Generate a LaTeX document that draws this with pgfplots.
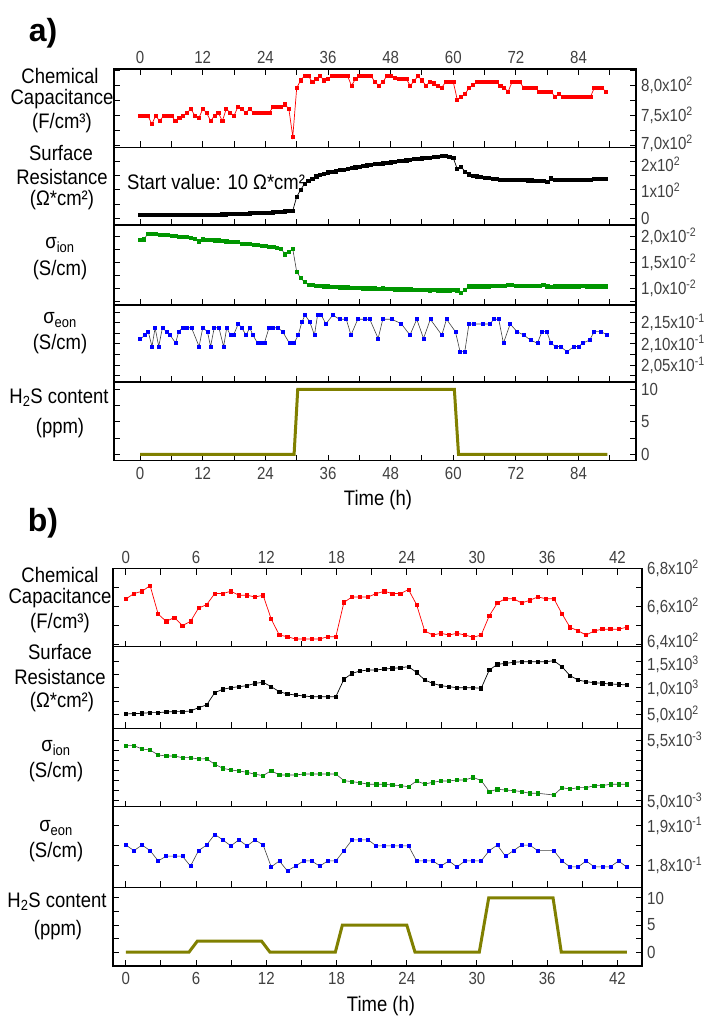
\documentclass[border=0pt]{standalone}
\usepackage{fontspec}
\setmainfont{Liberation Sans}
\newfontfamily\narrow{Liberation Sans}[FakeStretch=0.88]
\newfontfamily\narrowt{Liberation Sans}[FakeStretch=0.86]
\newfontfamily\boldf{Liberation Sans Bold}
\usepackage{pgfplots}
\pgfplotsset{compat=1.18}
\definecolor{olivel}{RGB}{128,128,0}
\definecolor{gr}{RGB}{0,150,0}
\definecolor{tk}{RGB}{64,64,64}
\newcommand\lab{\narrow\fontsize{21bp}{25bp}\selectfont}
\newcommand\tkf{\narrowt\fontsize{17.5bp}{21bp}\selectfont}
\newcommand\up[1]{\raisebox{2.5bp}[\height][\depth]{#1}}
\newcommand\dn[1]{\raisebox{-2.5bp}[\height][\depth]{#1}}
\pgfplotsset{
 panel/.style={
  scale only axis, clip=true,
  /pgf/number format/assume math mode=true,
  axis line style={line width=1.3bp},
  tick align=inside,
  major tick length=6bp, minor tick length=6bp,
  every tick/.append style={line width=1bp, black},
  tick label style={font=\tkf, color=tk},
  yticklabel pos=right, ytick pos=both,
  yticklabel style={anchor=west, xshift=2bp, inner ysep=0pt, inner xsep=3bp},
 },
 pa/.style={panel, width=522bp, xmin=-5, xmax=95, xtick={0,12,...,84}, minor xtick={6,18,...,90}},
 pb/.style={panel, width=529bp, xmin=-1.1, xmax=44.1, xtick={0,6,...,42}, minor xtick={3,9,...,39}},
 mid/.style={xticklabel pos=bottom, xtick pos=bottom, xticklabels={}},
 topp/.style={xticklabel pos=top, xtick pos=both, xticklabel style={yshift=2bp}},
 bot/.style={xticklabel pos=bottom, xtick pos=bottom, xticklabel style={yshift=-3bp}},
 redp/.style={red, line width=0.7bp, mark=square*, mark size=1.6bp},
 blkp/.style={black, line width=0.7bp, mark=square*, mark size=1.6bp},
 grp/.style={black!75, line width=0.6bp, mark=square*, mark size=1.6bp, mark options={draw=gr, fill=gr}},
 blup/.style={black!75, line width=0.6bp, mark=square*, mark size=1.5bp, mark options={draw=blue, fill=blue}},
 olp/.style={olivel, line width=3bp},
}
\begin{document}
\begin{tikzpicture}
\path[use as bounding box] (0,0) rectangle (715bp,1024bp);
% ================= PANEL A =================
\begin{axis}[pa, topp, anchor=north west, at={(114bp,955bp)}, height=78.3bp,
  ymin=697.3, ymax=827.8, ytick={700,750,800}, minor ytick={725,775,825},
  yticklabels={{\up{7,0x10\textsuperscript{2}}},{7,5x10\textsuperscript{2}},{8,0x10\textsuperscript{2}}}]
\addplot[redp] coordinates {
(0,750)(0.75,750)(1.5,750)(2.25,736)(3,750)(3.75,741)(4.5,750)(5.25,750)(6,750)(6.75,741)
(7.5,746)(8.25,750)(9,755)(9.75,761)(10.5,750)(11.25,746)(12,761)(12.75,755)(13.5,741)(14.25,750)
(15,755)(15.75,741)(16.5,761)(17.25,755)(18,750)(18.75,765)(19.5,761)(20.25,755)(21,761)(21.75,755)
(22.5,755)(23.25,755)(24,755)(24.75,755)(25.5,765)(26.25,765)(27,765)(27.75,769)(28.5,761)(29.25,715)
(30,796)(30.75,809)(31.5,816)(32.25,816)(33,806)(33.75,811)(34.5,816)(35.25,809)(36,812)(36.75,816)
(37.5,816)(38.25,816)(39,816)(39.75,816)(40.5,800)(41.25,811)(42,816)(42.75,816)(43.5,816)(44.25,816)
(45,806)(45.75,800)(46.5,806)(47.25,816)(48,816)(48.75,813)(49.5,811)(50.25,811)(51,811)(51.75,800)
(52.5,808)(53.25,816)(54,809)(54.75,800)(55.5,806)(56.25,804)(57,800)(57.75,796)(58.5,806)(59.25,806)
(60,806)(60.75,777)(61.5,781)(62.25,786)(63,796)(63.75,801)(64.5,806)(65.25,806)(66,806)(66.75,806)
(67.5,806)(68.25,806)(69,800)(69.75,796)(70.5,790)(71.25,806)(72,806)(72.75,806)(73.5,796)(74.25,796)
(75,796)(75.75,796)(76.5,790)(77.25,790)(78,790)(78.75,790)(79.5,781)(80.25,786)(81,781)(81.75,781)
(82.5,781)(83.25,781)(84,781)(84.75,781)(85.5,781)(86.25,781)(87,796)(87.75,796)(88.5,796)(89.25,790)
};
\end{axis}
\begin{axis}[pa, mid, anchor=north west, at={(114bp,876.7bp)}, height=77.7bp,
  ymin=-24, ymax=251, ytick={0,100,200}, minor ytick={50,150},
  yticklabels={{0},{1x10\textsuperscript{2}},{\dn{2x10\textsuperscript{2}}}}]
\addplot[blkp] coordinates {
(0,12)(0.75,12)(1.5,12)(2.25,12)(3,12)(3.75,12)(4.5,12)(5.25,12)(6,12)(6.75,12)
(7.5,12)(8.25,12)(9,12)(9.75,13)(10.5,13)(11.25,13)(12,13)(12.75,13)(13.5,13)(14.25,13)
(15,13)(15.75,14)(16.5,14)(17.25,15)(18,15)(18.75,15)(19.5,16)(20.25,16)(21,17)(21.75,18)
(22.5,18)(23.25,19)(24,20)(24.75,20)(25.5,21)(26.25,22)(27,23)(27.75,24)(28.5,25)(29.25,27)
(30,76)(30.75,100)(31.5,122)(32.25,132)(33,138)(33.75,148)(34.5,153)(35.25,158)(36,162)(36.75,164)
(37.5,166)(38.25,170)(39,172)(39.75,175)(40.5,177)(41.25,180)(42,182)(42.75,185)(43.5,187)(44.25,189)
(45,191)(45.75,192)(46.5,194)(47.25,196)(48,198)(48.75,200)(49.5,202)(50.25,204)(51,205)(51.75,207)
(52.5,209)(53.25,211)(54,212)(54.75,214)(55.5,214)(56.25,216)(57,218)(57.75,220)(58.5,222)(59.25,218)
(60,214)(60.75,174)(61.5,182)(62.25,165)(63,155)(63.75,150)(64.5,148)(65.25,146)(66,144)(66.75,142)
(67.5,140)(68.25,139)(69,137)(69.75,136)(70.5,136)(71.25,135)(72,135)(72.75,135)(73.5,135)(74.25,134)
(75,134)(75.75,133)(76.5,133)(77.25,132)(78,129)(78.75,141)(79.5,136)(80.25,135)(81,135)(81.75,135)
(82.5,135)(83.25,135)(84,135)(84.75,135)(85.5,136)(86.25,137)(87,138)(87.75,138)(88.5,138)(89.25,139)
};
\end{axis}
\begin{axis}[pa, mid, anchor=north west, at={(114bp,799bp)}, height=80bp,
  ymin=0.676, ymax=2.227, ytick={1,1.5,2}, minor ytick={0.75,1.25,1.75},
  yticklabels={{1,0x10\textsuperscript{-2}},{1,5x10\textsuperscript{-2}},{2,0x10\textsuperscript{-2}}}]
\addplot[grp] coordinates {
(0,1.94)(0.75,1.95)(1.5,2.06)(2.25,2.05)(3,2.05)(3.75,2.04)(4.5,2.03)(5.25,2.03)(6,2.02)(6.75,2.01)
(7.5,2.00)(8.25,2.00)(9,2.00)(9.75,1.98)(10.5,1.96)(11.25,1.91)(12,1.95)(12.75,1.94)(13.5,1.94)(14.25,1.93)
(15,1.93)(15.75,1.92)(16.5,1.91)(17.25,1.90)(18,1.90)(18.75,1.90)(19.5,1.86)(20.25,1.87)(21,1.86)(21.75,1.85)
(22.5,1.84)(23.25,1.83)(24,1.82)(24.75,1.81)(25.5,1.80)(26.25,1.79)(27,1.77)(27.75,1.66)(28.5,1.71)(29.25,1.76)
(30,1.32)(30.75,1.20)(31.5,1.12)(32.25,1.07)(33,1.06)(33.75,1.05)(34.5,1.05)(35.25,1.04)(36,1.04)(36.75,1.03)
(37.5,1.03)(38.25,1.02)(39,1.02)(39.75,1.02)(40.5,1.01)(41.25,1.01)(42,1.01)(42.75,1.00)(43.5,1.00)(44.25,1.00)
(45,1.00)(45.75,0.99)(46.5,1.00)(47.25,0.99)(48,0.99)(48.75,0.98)(49.5,0.98)(50.25,0.98)(51,0.98)(51.75,0.98)
(52.5,0.97)(53.25,0.97)(54,0.97)(54.75,0.97)(55.5,0.96)(56.25,0.97)(57,0.96)(57.75,0.96)(58.5,0.96)(59.25,0.96)
(60,0.97)(60.75,0.96)(61.5,0.91)(62.25,0.97)(63,1.04)(63.75,1.04)(64.5,1.04)(65.25,1.04)(66,1.04)(66.75,1.04)
(67.5,1.05)(68.25,1.05)(69,1.05)(69.75,1.05)(70.5,1.06)(71.25,1.06)(72,1.05)(72.75,1.05)(73.5,1.05)(74.25,1.05)
(75,1.05)(75.75,1.05)(76.5,1.05)(77.25,1.06)(78,1.04)(78.75,1.03)(79.5,1.04)(80.25,1.04)(81,1.04)(81.75,1.04)
(82.5,1.04)(83.25,1.04)(84,1.04)(84.75,1.05)(85.5,1.04)(86.25,1.04)(87,1.04)(87.75,1.04)(88.5,1.04)(89.25,1.04)
};
\end{axis}
\begin{axis}[pa, mid, anchor=north west, at={(114bp,719bp)}, height=77bp,
  ymin=2.0108, ymax=2.1915, ytick={2.05,2.10,2.15}, minor ytick={2.025,2.075,2.125,2.175},
  yticklabels={{2,05x10\textsuperscript{-1}},{2,10x10\textsuperscript{-1}},{2,15x10\textsuperscript{-1}}}]
\addplot[blup] coordinates {
(0,2.111)(0.96,2.121)(1.57,2.129)(2.27,2.094)(2.88,2.138)(3.57,2.094)(4.27,2.138)(5.06,2.129)(5.75,2.121)(6.8,2.102)
(7.4,2.129)(8.1,2.138)(9.0,2.138)(9.85,2.138)(11.3,2.094)(12.0,2.138)(12.9,2.129)(13.5,2.094)(14.2,2.138)(15.1,2.138)
(16.0,2.094)(16.6,2.138)(17.3,2.121)(17.9,2.121)(18.8,2.147)(19.4,2.139)(20.3,2.121)(21.0,2.138)(21.6,2.121)(22.5,2.102)
(23.1,2.102)(23.8,2.102)(24.7,2.138)(25.5,2.138)(26.4,2.138)(27.3,2.129)(28.6,2.102)(29.5,2.102)(30.3,2.121)(31.0,2.152)
(31.6,2.168)(32.5,2.152)(33.4,2.121)(34.0,2.168)(34.7,2.168)(35.6,2.147)(36.9,2.168)(38.2,2.158)(39.5,2.158)(40.4,2.121)
(41.7,2.158)(43.0,2.158)(44.0,2.158)(45.6,2.113)(46.5,2.158)(48.2,2.158)(50.0,2.148)(51.7,2.121)(53.0,2.158)(54.3,2.113)
(55.6,2.158)(57.8,2.121)(58.7,2.158)(60.4,2.129)(61.3,2.082)(62.2,2.082)(63.0,2.147)(63.9,2.147)(65.6,2.147)(67.0,2.147)
(67.8,2.158)(68.7,2.158)(69.6,2.102)(70.9,2.147)(72.2,2.129)(73.5,2.121)(74.8,2.109)(76.1,2.102)(77.0,2.129)(77.9,2.129)
(78.7,2.102)(79.6,2.094)(80.5,2.094)(81.8,2.082)(83.1,2.094)(84.0,2.094)(84.8,2.102)(86.1,2.109)(87.0,2.129)(88.3,2.129)
(89.5,2.121)
};
\end{axis}
\begin{axis}[pa, bot, anchor=north west, at={(114bp,642bp)}, height=78.7bp,
  ymin=-0.98, ymax=11.12, ytick={0,5,10}, minor ytick={2.5,7.5}]
\addplot[olp] coordinates {(0,0)(29.5,0)(30.2,10)(60.2,10)(61.0,0)(89.5,0)};
\end{axis}
% ================= PANEL B =================
\begin{axis}[pb, topp, anchor=north west, at={(113bp,455.3bp)}, height=78bp,
  ymin=638.6, ymax=680, ytick={640,660,680}, minor ytick={650,670},
  yticklabels={{\up{6,4x10\textsuperscript{2}}},{6,6x10\textsuperscript{2}},{6,8x10\textsuperscript{2}}}]
\addplot[redp] coordinates {
(0,663.9)(0.69,666.8)(1.38,668)(2.07,671)(2.76,655.9)(3.45,652)(4.14,654.1)(4.83,649.8)(5.52,652)(6.21,659.1)
(6.9,660.9)(7.59,666.8)(8.28,666.8)(8.97,668)(9.66,665.9)(10.35,665.9)(11.04,665)(11.73,665.9)(12.42,653.2)(13.11,644.8)
(13.8,643.9)(14.49,642.7)(15.18,642.7)(15.87,642.7)(16.56,642.7)(17.25,643.9)(17.94,643.9)(18.63,662.1)(19.32,665)(20.01,665)
(20.7,665)(21.39,666.8)(22.08,668)(22.77,666.8)(23.46,666.8)(24.15,668.9)(24.84,660.9)(25.53,647)(26.22,644.8)(26.91,645.7)
(27.6,644.8)(28.29,645.7)(28.98,644.8)(29.67,643.6)(30.36,644.8)(31.05,655)(31.74,661.8)(32.43,664.1)(33.12,664.1)(33.81,661.8)
(34.5,663.2)(35.19,665)(35.88,664.1)(36.57,664.1)(37.26,656.1)(37.95,648.9)(38.64,647)(39.33,644.8)(40.02,647)(40.71,647.9)
(41.4,647.9)(42.09,647.9)(42.78,648.9)
};
\end{axis}
\begin{axis}[pb, mid, anchor=north west, at={(113bp,377.3bp)}, height=81.6bp,
  ymin=234, ymax=1785, ytick={500,1000,1500}, minor ytick={750,1250},
  yticklabels={{5,0x10\textsuperscript{2}},{1,0x10\textsuperscript{3}},{\dn{1,5x10\textsuperscript{3}}}}]
\addplot[blkp] coordinates {
(0,506)(0.69,513)(1.38,519)(2.07,532)(2.76,532)(3.45,544)(4.14,551)(4.83,551)(5.52,563)(6.21,627)
(6.9,677)(7.59,911)(8.28,975)(8.97,1006)(9.66,1025)(10.35,1044)(11.04,1089)(11.73,1108)(12.42,1025)(13.11,930)
(13.8,886)(14.49,867)(15.18,848)(15.87,835)(16.56,835)(17.25,835)(17.94,835)(18.63,1165)(19.32,1278)(20.01,1323)
(20.7,1342)(21.39,1342)(22.08,1361)(22.77,1373)(23.46,1386)(24.15,1405)(24.84,1297)(25.53,1152)(26.22,1089)(26.91,1044)
(27.6,1025)(28.29,1006)(28.98,1006)(29.67,1006)(30.36,994)(31.05,1342)(31.74,1449)(32.43,1468)(33.12,1487)(33.81,1500)
(34.5,1500)(35.19,1500)(35.88,1500)(36.57,1519)(37.26,1405)(37.95,1234)(38.64,1152)(39.33,1120)(40.02,1101)(40.71,1089)
(41.4,1076)(42.09,1070)(42.78,1057)
};
\end{axis}
\begin{axis}[pb, mid, anchor=north west, at={(113bp,295.7bp)}, height=78.4bp,
  ymin=4.953, ymax=5.596, ytick={5.0,5.5}, minor ytick={5.0833,5.1667,5.25,5.3333,5.4167},
  yticklabels={{5,0x10\textsuperscript{-3}},{5,5x10\textsuperscript{-3}}}]
\addplot[grp] coordinates {
(0,5.454)(0.69,5.454)(1.38,5.426)(2.07,5.418)(2.76,5.377)(3.45,5.369)(4.14,5.369)(4.83,5.355)(5.52,5.355)(6.21,5.344)
(6.9,5.347)(7.59,5.301)(8.28,5.268)(8.97,5.254)(9.66,5.246)(10.35,5.235)(11.04,5.219)(11.73,5.208)(12.42,5.249)(13.11,5.213)
(13.8,5.213)(14.49,5.213)(15.18,5.221)(15.87,5.221)(16.56,5.221)(17.25,5.221)(17.94,5.221)(18.63,5.167)(19.32,5.158)(20.01,5.150)
(20.7,5.137)(21.39,5.137)(22.08,5.137)(22.77,5.131)(23.46,5.126)(24.15,5.117)(24.84,5.164)(25.53,5.139)(26.22,5.153)(26.91,5.164)
(27.6,5.164)(28.29,5.172)(28.98,5.172)(29.67,5.194)(30.36,5.167)(31.05,5.077)(31.74,5.096)(32.43,5.090)(33.12,5.085)(33.81,5.077)
(34.5,5.063)(35.19,5.063)(36.57,5.049)(37.26,5.109)(37.95,5.098)(38.64,5.109)(39.33,5.109)(40.02,5.126)(40.71,5.126)(41.4,5.137)
(42.09,5.137)(42.78,5.137)
};
\end{axis}
\begin{axis}[pb, mid, anchor=north west, at={(113bp,217.3bp)}, height=80.6bp,
  ymin=1.7456, ymax=1.9486, ytick={1.8,1.9}, minor ytick={1.85},
  yticklabels={{1,8x10\textsuperscript{-1}},{1,9x10\textsuperscript{-1}}}]
\addplot[blup] coordinates {
(0,1.852)(0.69,1.838)(1.38,1.852)(2.07,1.838)(2.76,1.812)(3.45,1.824)(4.14,1.824)(4.83,1.824)(5.52,1.799)(6.21,1.838)
(6.9,1.852)(7.59,1.879)(8.28,1.865)(8.97,1.850)(9.66,1.865)(10.35,1.850)(11.04,1.865)(11.73,1.852)(12.42,1.797)(13.11,1.812)
(13.8,1.787)(14.49,1.799)(15.18,1.812)(15.87,1.812)(16.56,1.799)(17.25,1.812)(17.94,1.812)(18.63,1.838)(19.32,1.865)(20.01,1.865)
(20.7,1.865)(21.39,1.850)(22.08,1.850)(22.77,1.850)(23.46,1.850)(24.15,1.850)(24.84,1.812)(25.53,1.812)(26.22,1.812)(26.91,1.799)
(27.6,1.812)(28.29,1.797)(28.98,1.812)(29.67,1.812)(30.36,1.812)(31.05,1.838)(31.74,1.852)(32.43,1.824)(33.12,1.838)(33.81,1.852)
(34.5,1.852)(35.19,1.838)(36.57,1.838)(37.26,1.812)(37.95,1.797)(38.64,1.797)(39.33,1.812)(40.02,1.797)(40.71,1.797)(41.4,1.797)
(42.09,1.812)(42.78,1.797)
};
\end{axis}
\begin{axis}[pb, bot, anchor=north west, at={(113bp,136.7bp)}, height=78.7bp,
  ymin=-2.59, ymax=11.98, ytick={0,5,10}, minor ytick={2.5,7.5}]
\addplot[olp] coordinates {(0,0)(5.4,0)(6.1,2)(11.6,2)(12.3,0)(17.9,0)(18.5,5)(24.0,5)(24.7,0)(30.2,0)(31.0,10)(36.5,10)(37.2,0)(42.8,0)};
\end{axis}
% ================= LABELS =================
\node[font=\boldf\fontsize{32bp}{36bp}\selectfont] at (43bp,991bp) {a)};
\node[font=\boldf\fontsize{32bp}{36bp}\selectfont] at (43bp,501bp) {b)};
\begin{scope}[every node/.style={font=\lab, inner sep=0pt}]
\node at (60bp,948bp) {Chemical};
\node at (62bp,925bp) {Capacitance};
\node at (62bp,901bp) {(F/cm³)};
\node at (61bp,871bp) {Surface};
\node at (62bp,847bp) {Resistance};
\node at (62bp,824bp) {(Ω*cm²)};
\node at (60bp,779bp) {σ\textsubscript{ion}};
\node at (60bp,754bp) {(S/cm)};
\node at (60bp,704bp) {σ\textsubscript{eon}};
\node at (60bp,680bp) {(S/cm)};
\node at (59bp,626bp) {H\textsubscript{2}S content};
\node at (60bp,596bp) {(ppm)};
\node[anchor=west, font=\narrow\fontsize{21bp}{25bp}\selectfont] at (127bp,842bp) {Start value: 10 Ω*cm²};
\node at (378bp,524bp) {Time (h)};
\node at (60bp,449bp) {Chemical};
\node at (60bp,426bp) {Capacitance};
\node at (60bp,401bp) {(F/cm³)};
\node at (60bp,372bp) {Surface};
\node at (60bp,347bp) {Resistance};
\node at (62bp,322bp) {(Ω*cm²)};
\node at (56bp,276bp) {σ\textsubscript{ion}};
\node at (56bp,252bp) {(S/cm)};
\node at (56bp,196bp) {σ\textsubscript{eon}};
\node at (56bp,172bp) {(S/cm)};
\node at (57bp,122bp) {H\textsubscript{2}S content};
\node at (58bp,94bp) {(ppm)};
\node at (381bp,18bp) {Time (h)};
\end{scope}
\end{tikzpicture}
\end{document}
